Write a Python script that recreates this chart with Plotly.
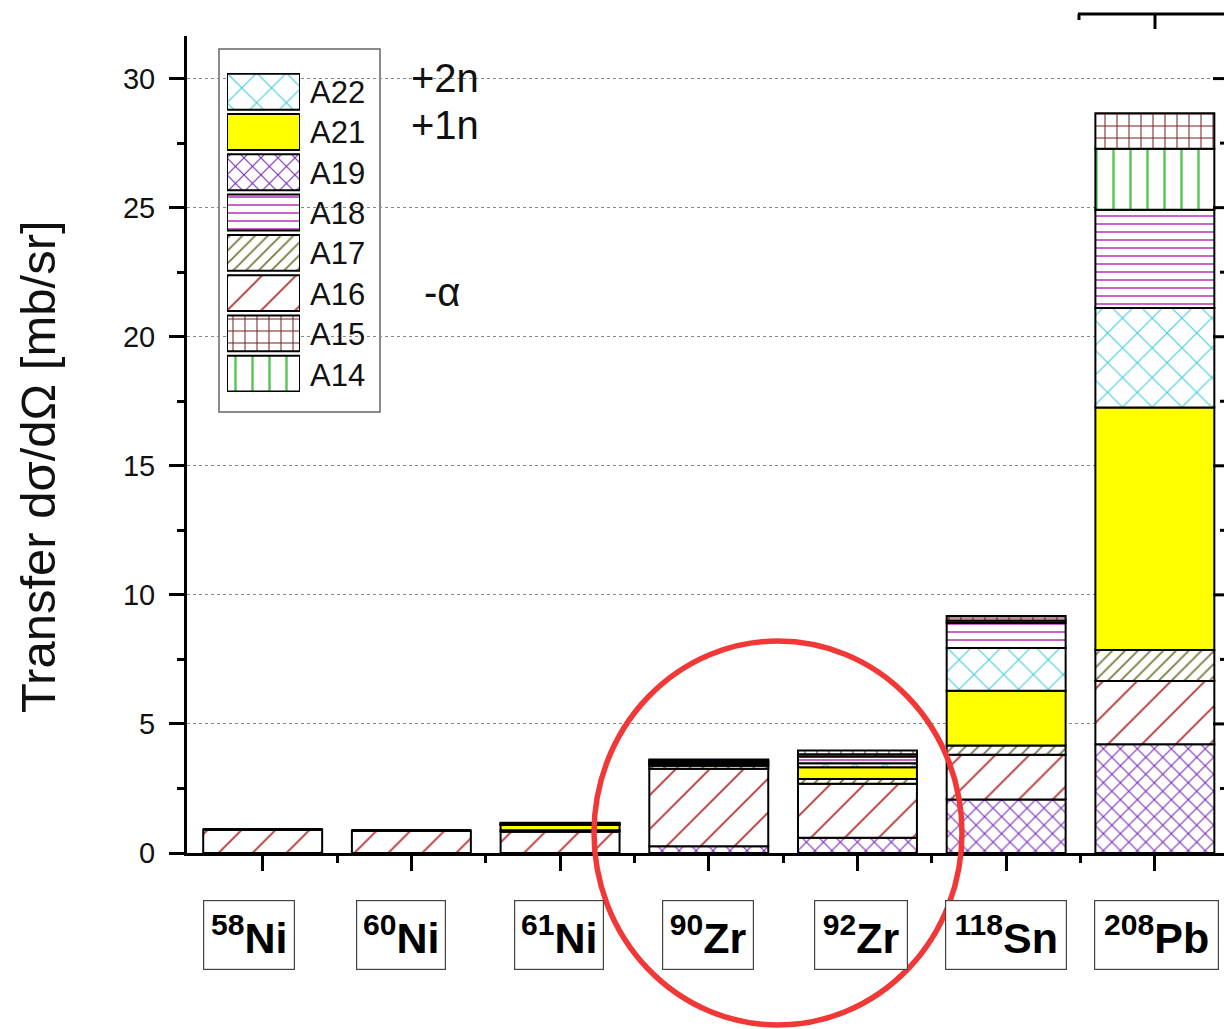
import plotly.graph_objects as go

# Target nuclei (mass number + element)
mass_numbers = ["58", "60", "61", "90", "92", "118", "208"]
elements = ["Ni", "Ni", "Ni", "Zr", "Zr", "Sn", "Pb"]

# Transfer cross sections per channel [mb/sr], listed in stacking order (bottom -> top)
A19 = [0.00, 0.00, 0.00, 0.26, 0.59, 2.07, 4.21]
A16 = [0.91, 0.87, 0.82, 3.00, 2.09, 1.74, 2.45]
A17 = [0.00, 0.00, 0.06, 0.12, 0.19, 0.35, 1.20]
A21 = [0.00, 0.00, 0.20, 0.03, 0.45, 2.13, 9.40]
A22 = [0.00, 0.00, 0.02, 0.06, 0.16, 1.65, 3.85]
A18 = [0.00, 0.00, 0.02, 0.06, 0.26, 0.98, 3.81]
A14 = [0.00, 0.00, 0.02, 0.05, 0.09, 0.09, 2.36]
A15 = [0.00, 0.00, 0.03, 0.04, 0.14, 0.17, 1.38]

stack_order = ["A19", "A16", "A17", "A21", "A22", "A18", "A14", "A15"]
legend_order = ["A22", "A21", "A19", "A18", "A17", "A16", "A15", "A14"]
series = {"A19": A19, "A16": A16, "A17": A17, "A21": A21,
          "A22": A22, "A18": A18, "A14": A14, "A15": A15}

# Y ticks
major_y = [0, 5, 10, 15, 20, 25, 30]
minor_y = [2.5, 7.5, 12.5, 17.5, 22.5, 27.5]

# Fill styles for each channel
styles = {
    "A22": dict(shape="x", fg="rgb(60,205,220)", size=21, solidity=0.10, bg="white"),
    "A21": dict(shape="", fg="rgb(255,255,0)", size=8, solidity=0.3, bg="rgb(255,255,0)"),
    "A19": dict(shape="x", fg="rgb(120,40,185)", size=12, solidity=0.17, bg="white"),
    "A18": dict(shape="-", fg="rgb(185,60,190)", size=8, solidity=0.2, bg="white"),
    "A17": dict(shape="/", fg="rgb(120,120,60)", size=9, solidity=0.19, bg="white"),
    "A16": dict(shape="/", fg="rgb(180,50,50)", size=24, solidity=0.075, bg="white"),
    "A15": dict(shape="+", fg="rgb(120,30,30)", size=12, solidity=0.16, bg="white"),
    "A14": dict(shape="|", fg="rgb(80,200,80)", size=17, solidity=0.14, bg="white"),
}

# Plot-area geometry in pixels
FIG_W, FIG_H = 1224, 1029
PL, PR, PT, PB = 187, 1224, 36, 853
X_RANGE = [-0.509, 6.465]
Y_RANGE = [0, 31.65]


def px(x):
    return (x - PL) / (PR - PL)


def py(y):
    return (PB - y) / (PB - PT)


FONT = "Arial, Liberation Sans, sans-serif"

fig = go.Figure()

x_pos = list(range(len(mass_numbers)))
base = [0.0] * len(x_pos)
for name in stack_order:
    vals = series[name]
    st = styles[name]
    fig.add_trace(go.Bar(
        x=x_pos, y=vals, base=list(base), width=0.8, name=name, showlegend=False,
        marker=dict(
            color=st["bg"],
            line=dict(color="black", width=2),
            pattern=dict(shape=st["shape"], fgcolor=st["fg"], bgcolor=st["bg"],
                         size=st["size"], solidity=st["solidity"], fillmode="replace"),
        ),
    ))
    base = [b + v for b, v in zip(base, vals)]

# Legend swatches drawn on a small auxiliary axis pair
SW_TOP, SW_STEP, SW_H = 73.3, 40.4, 36
for i, name in enumerate(legend_order):
    st = styles[name]
    fig.add_trace(go.Bar(
        x=[0], y=[SW_H], base=[SW_TOP + i * SW_STEP], width=1, showlegend=False,
        xaxis="x2", yaxis="y2", hoverinfo="skip",
        marker=dict(
            color=st["bg"],
            line=dict(color="black", width=2),
            pattern=dict(shape=st["shape"], fgcolor=st["fg"], bgcolor=st["bg"],
                         size=st["size"], solidity=st["solidity"], fillmode="replace"),
        ),
    ))

annotations = []
for i, name in enumerate(legend_order):
    annotations.append(dict(
        text=name, x=px(308), y=py(SW_TOP + i * SW_STEP + SW_H / 2 + 1),
        xref="paper", yref="paper", xanchor="left", yanchor="middle",
        showarrow=False, font=dict(family=FONT, size=31, color="#111"),
    ))

# Channel notes
for txt, xc, yc in [("+2n", 445, 78), ("+1n", 445, 125), ("-\u03b1", 442, 292)]:
    annotations.append(dict(
        text=txt, x=px(xc), y=py(yc), xref="paper", yref="paper",
        xanchor="center", yanchor="middle", showarrow=False,
        font=dict(family=FONT, size=40, color="#111"),
    ))

# Boxed target labels under the bars
box_w = [90, 88, 88, 90, 92, 120, 123]
box_shift = [-14, -10, -1, -1, 4, 0, 2]
for i, (m, el) in enumerate(zip(mass_numbers, elements)):
    annotations.append(dict(
        text=f"<b><sup>{m}</sup>{el}</b>", x=i, xref="x", y=py(935), yref="paper",
        xanchor="center", yanchor="middle", xshift=box_shift[i], showarrow=False,
        width=box_w[i], height=68, align="center", valign="middle",
        bordercolor="#444", borderwidth=1.2, borderpad=0, bgcolor="white",
        font=dict(family=FONT, size=43, color="black"),
    ))

# Y-axis title
annotations.append(dict(
    text="Transfer d\u03c3/d\u03a9 [mb/sr]", x=px(38), y=py(467), xref="paper", yref="paper",
    xanchor="center", yanchor="middle", textangle=-90, showarrow=False,
    font=dict(family=FONT, size=49, color="#111"),
))

shapes = [
    # legend frame
    dict(type="rect", xref="paper", yref="paper", x0=px(219), x1=px(380), y0=py(412), y1=py(49),
         line=dict(color="#666", width=1.5), fillcolor="white", layer="between"),
    # highlight ring around the Zr targets
    dict(type="circle", xref="paper", yref="paper", x0=px(594), x1=px(962), y0=py(1025), y1=py(641),
         line=dict(color="rgb(242,55,55)", width=5.5)),
    # edge of the neighbouring panel
    dict(type="line", xref="paper", yref="paper", x0=px(1078), x1=px(1224), y0=py(14), y1=py(14),
         line=dict(color="black", width=3)),
    dict(type="line", xref="paper", yref="paper", x0=px(1079), x1=px(1079), y0=py(14), y1=py(20),
         line=dict(color="black", width=3)),
    dict(type="line", xref="paper", yref="paper", x0=px(1155), x1=px(1155), y0=py(14), y1=py(29),
         line=dict(color="black", width=3)),
]
# inward ticks of the right-hand axis
for v in major_y[1:]:
    shapes.append(dict(type="line", xref="paper", yref="y", x0=px(1213), x1=1, y0=v, y1=v,
                       line=dict(color="black", width=3)))
for v in minor_y:
    shapes.append(dict(type="line", xref="paper", yref="y", x0=px(1220), x1=1, y0=v, y1=v,
                       line=dict(color="black", width=3)))

fig.update_layout(
    width=FIG_W, height=FIG_H,
    margin=dict(l=PL, r=FIG_W - PR, t=PT, b=FIG_H - PB),
    paper_bgcolor="white", plot_bgcolor="white",
    barmode="overlay",
    font=dict(family=FONT, color="#111"),
    annotations=annotations, shapes=shapes,
    xaxis=dict(
        range=X_RANGE, showgrid=False, zeroline=False,
        showline=True, linecolor="black", linewidth=3,
        tickvals=x_pos, ticks="outside", ticklen=15, tickwidth=3, tickcolor="black",
        showticklabels=False,
        minor=dict(tickvals=[i + 0.5 for i in x_pos[:-1]], ticks="outside", ticklen=7,
                   tickwidth=3, tickcolor="black", showgrid=False),
    ),
    yaxis=dict(
        range=Y_RANGE, zeroline=False,
        showline=True, linecolor="black", linewidth=3,
        tickvals=major_y, ticks="outside", ticklen=15, tickwidth=3, tickcolor="black",
        ticklabelstandoff=8,
        tickfont=dict(family=FONT, size=29, color="#111"),
        showgrid=True, gridcolor="#888", gridwidth=1.2, griddash="dot",
        minor=dict(tickvals=minor_y, ticks="outside", ticklen=7, tickwidth=3,
                   tickcolor="black", showgrid=False),
    ),
    xaxis2=dict(domain=[px(227), px(300)], anchor="y2", range=[-0.5, 0.5], visible=False),
    yaxis2=dict(domain=[py(392), py(73)], anchor="x2", range=[392.5, 72.5], visible=False),
)

fig.write_html("out.html")
